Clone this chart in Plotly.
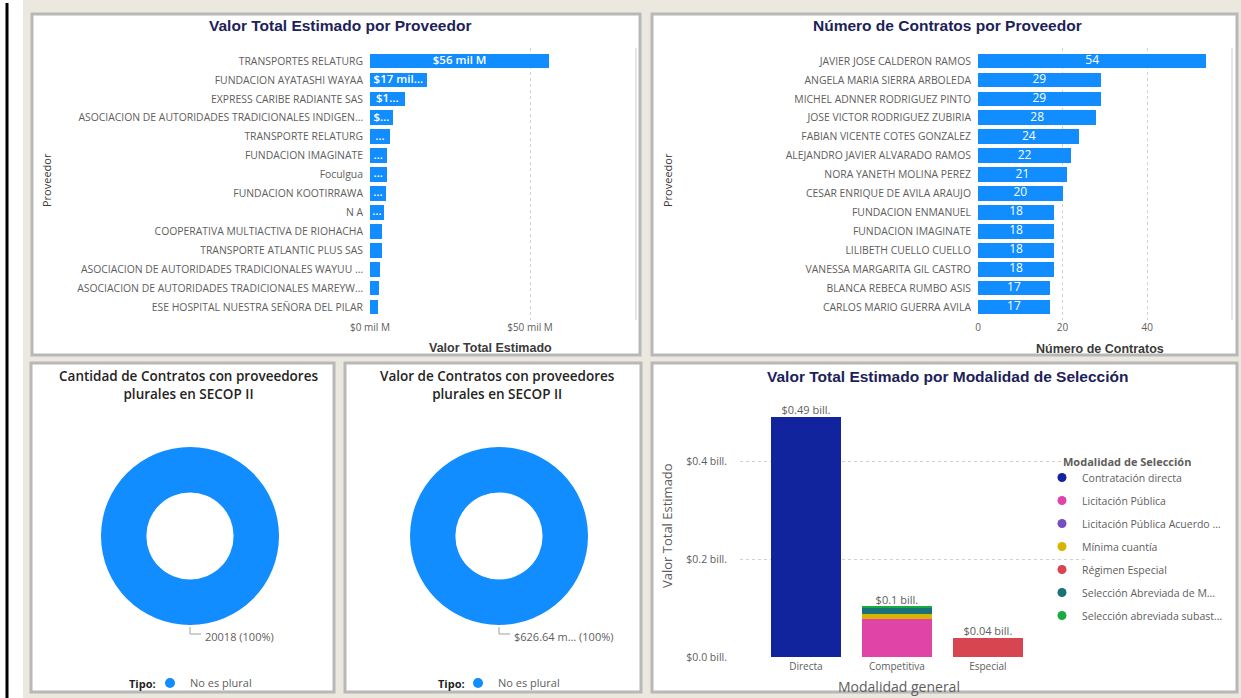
import plotly.graph_objects as go

W, H = 1241, 698


def px(x):
    return x / W


def py(y):
    return 1 - y / H


# ---------------- data ----------------
proveedores_valor = [
    "TRANSPORTES RELATURG",
    "FUNDACION AYATASHI WAYAA",
    "EXPRESS CARIBE RADIANTE SAS",
    "ASOCIACION DE AUTORIDADES TRADICIONALES INDIGEN…",
    "TRANSPORTE RELATURG",
    "FUNDACION IMAGINATE",
    "Foculgua",
    "FUNDACION KOOTIRRAWA",
    "N A",
    "COOPERATIVA MULTIACTIVA DE RIOHACHA",
    "TRANSPORTE ATLANTIC PLUS SAS",
    "ASOCIACION DE AUTORIDADES TRADICIONALES WAYUU …",
    "ASOCIACION DE AUTORIDADES TRADICIONALES MAREYW…",
    "ESE HOSPITAL NUESTRA SEÑORA DEL PILAR",
]
valor_mil_millones = [56.0, 17.7, 10.8, 7.2, 6.2, 5.2, 5.2, 4.9, 4.4, 3.9, 3.6, 3.1, 2.9, 2.6]
etiquetas_valor = ["$56 mil M", "$17 mil…", "$1…", "$…", "…", "…", "…", "…", "…",
                   "", "", "", "", ""]
ticks_valor = [0, 50]

proveedores_contratos = [
    "JAVIER JOSE CALDERON RAMOS",
    "ANGELA MARIA SIERRA ARBOLEDA",
    "MICHEL ADNNER RODRIGUEZ PINTO",
    "JOSE VICTOR RODRIGUEZ ZUBIRIA",
    "FABIAN VICENTE COTES GONZALEZ",
    "ALEJANDRO JAVIER ALVARADO RAMOS",
    "NORA YANETH MOLINA PEREZ",
    "CESAR ENRIQUE DE AVILA ARAUJO",
    "FUNDACION ENMANUEL",
    "FUNDACION IMAGINATE",
    "LILIBETH CUELLO CUELLO",
    "VANESSA MARGARITA GIL CASTRO",
    "BLANCA REBECA RUMBO ASIS",
    "CARLOS MARIO GUERRA AVILA",
]
numero_contratos = [54, 29, 29, 28, 24, 22, 21, 20, 18, 18, 18, 18, 17, 17]
ticks_contratos = [0, 20, 40]

modalidad_general = ["Directa", "Competitiva", "Especial"]
contratacion_directa = [0.49, 0, 0]
licitacion_publica = [0, 0.0776, 0]
licitacion_publica_acuerdo = [0, 0.0008, 0]
minima_cuantia = [0, 0.0102, 0]
regimen_especial = [0, 0, 0.0385]
seleccion_abreviada_m = [0, 0.0122, 0]
seleccion_abreviada_subasta = [0, 0.0020, 0]
ticks_bill = [0.0, 0.2, 0.4]

tipo = ["No es plural"]
cantidad_contratos = [20018]
valor_contratos_mil_m = [626.64]

# ---------------- styles ----------------
BLUE = "#118DFF"
BEIGE = "#EAE8DF"
BORDER = "#B8B8B8"
NAVY = "#1C2259"
GRAY = "#605E5C"
DARK = "#252423"
FONT = "Open Sans, Noto Sans, sans-serif"
TITLEFONT = "Liberation Sans, Arial, sans-serif"
GRID = "#D2D0CE"

series_modalidad = [
    ("Contratación directa", contratacion_directa, "#12239E"),
    ("Licitación Pública", licitacion_publica, "#E044A7"),
    ("Licitación Pública Acuerdo …", licitacion_publica_acuerdo, "#744EC2"),
    ("Mínima cuantía", minima_cuantia, "#D9B300"),
    ("Régimen Especial", regimen_especial, "#D64550"),
    ("Selección Abreviada de M…", seleccion_abreviada_m, "#197278"),
    ("Selección abreviada subast…", seleccion_abreviada_subasta, "#1AAB40"),
]

fig = go.Figure()

# ---- top-left: valor por proveedor
fig.add_trace(go.Bar(
    x=valor_mil_millones, y=proveedores_valor, orientation="h",
    marker=dict(color=BLUE, line=dict(width=0)), width=0.78,
    xaxis="x", yaxis="y", showlegend=False,
))
fig.add_trace(go.Scatter(
    x=[v / 2 for v in valor_mil_millones], y=proveedores_valor, text=etiquetas_valor,
    mode="text", textposition="middle center",
    textfont=dict(color="white", size=11.5, family=FONT, weight=600),
    xaxis="x", yaxis="y", showlegend=False, hoverinfo="skip",
))

# ---- top-right: número de contratos
fig.add_trace(go.Bar(
    x=numero_contratos, y=proveedores_contratos, orientation="h",
    marker=dict(color=BLUE, line=dict(width=0)), width=0.78,
    xaxis="x2", yaxis="y2", showlegend=False,
))
fig.add_trace(go.Scatter(
    x=[v / 2 for v in numero_contratos], y=proveedores_contratos,
    text=[str(v) for v in numero_contratos],
    mode="text", textposition="middle center",
    textfont=dict(color="white", size=12, family=FONT),
    xaxis="x2", yaxis="y2", showlegend=False, hoverinfo="skip",
))

# ---- bottom-right: stacked by modalidad
for name, vals, col in series_modalidad:
    fig.add_trace(go.Bar(
        x=modalidad_general, y=vals, name=name, marker=dict(color=col, line=dict(width=0)),
        width=0.77, xaxis="x3", yaxis="y3", showlegend=False,
    ))
totales = [sum(s[1][i] for s in series_modalidad) for i in range(len(modalidad_general))]


def fmt_bill(v):
    s = f"{v:.2f}".rstrip("0")
    if s.endswith("."):
        s += "0"
    return f"${s} bill."


fig.add_trace(go.Scatter(
    x=modalidad_general, y=totales, text=[fmt_bill(t) for t in totales],
    mode="text", textposition="top center",
    textfont=dict(color=GRAY, size=11, family=FONT),
    xaxis="x3", yaxis="y3", showlegend=False, hoverinfo="skip",
))
for name, vals, col in series_modalidad:
    fig.add_trace(go.Scatter(
        x=[None], y=[None], mode="markers", name=name, legendgroup=name,
        marker=dict(color=col, size=9, symbol="circle"),
        xaxis="x3", yaxis="y3", legend="legend",
    ))

# ---- donuts
fig.add_trace(go.Pie(
    labels=tipo, values=cantidad_contratos, hole=0.49, sort=False,
    marker=dict(colors=[BLUE], line=dict(width=0)), textinfo="none",
    domain=dict(x=[px(101), px(279)], y=[py(625), py(447)]), showlegend=False,
))
fig.add_trace(go.Pie(
    labels=tipo, values=valor_contratos_mil_m, hole=0.49, sort=False,
    marker=dict(colors=[BLUE], line=dict(width=0)), textinfo="none",
    domain=dict(x=[px(410), px(588)], y=[py(625), py(447)]), showlegend=False,
))
for lg in ("legend2", "legend3"):
    fig.add_trace(go.Scatter(
        x=[None], y=[None], mode="markers", name=tipo[0],
        marker=dict(color=BLUE, size=10, symbol="circle"),
        xaxis="x3", yaxis="y3", legend=lg,
    ))

pct1 = round(100 * cantidad_contratos[0] / sum(cantidad_contratos))
pct2 = round(100 * valor_contratos_mil_m[0] / sum(valor_contratos_mil_m))
lbl1 = f"{cantidad_contratos[0]} ({pct1}%)"
lbl2 = f"${valor_contratos_mil_m[0]:.2f} m… ({pct2}%)"

# ---------------- shapes (panels) ----------------
shapes = []
shapes.append(dict(type="rect", xref="paper", yref="paper", x0=0, x1=px(23), y0=0, y1=1,
                   fillcolor="white", line=dict(width=0), layer="below"))
shapes.append(dict(type="line", xref="paper", yref="paper", x0=px(7), x1=px(7), y0=0, y1=py(3),
                   line=dict(color="black", width=3), layer="below"))
for (x0, y0, x1, y1) in [(32, 14, 640, 355), (652, 14, 1237, 355), (31, 363, 334, 692),
                         (345, 363, 641, 692), (652, 363, 1237, 692)]:
    shapes.append(dict(type="rect", xref="paper", yref="paper",
                       x0=px(x0), x1=px(x1), y0=py(y1), y1=py(y0),
                       fillcolor="white", line=dict(color=BORDER, width=3), layer="below"))
# scroll hints
for xs in (636, 1232):
    shapes.append(dict(type="line", xref="paper", yref="paper", x0=px(xs), x1=px(xs),
                       y0=py(320), y1=py(48), line=dict(color="#E6E6E6", width=2), layer="below"))
# donut label leaders
for cx in (190, 499):
    shapes.append(dict(type="path", xref="paper", yref="paper",
                       path=f"M {px(cx)} {py(627)} L {px(cx)} {py(634)} L {px(cx + 11)} {py(634)}",
                       line=dict(color="#A19F9D", width=1)))

# ---------------- annotations ----------------
ann = []


def add_text(text, x, y, size, color, family=FONT, weight="normal", angle=0, xanchor="center"):
    ann.append(dict(text=text, x=px(x), y=py(y), xref="paper", yref="paper", showarrow=False,
                    xanchor=xanchor, yanchor="middle", textangle=angle,
                    font=dict(size=size, color=color, family=family, weight=weight)))


add_text("Valor Total Estimado por Proveedor", 340, 25, 15.5, NAVY, TITLEFONT, "bold")
add_text("Número de Contratos por Proveedor", 948, 25, 15.5, NAVY, TITLEFONT, "bold")
add_text("Valor Total Estimado por Modalidad de Selección", 947, 376, 15.5, NAVY, TITLEFONT, "bold")
add_text("Cantidad de Contratos con proveedores<br>plurales en SECOP II", 188, 385, 13.5, DARK, FONT, 600)
add_text("Valor de Contratos con proveedores<br>plurales en SECOP II", 497, 385, 13.5, DARK, FONT, 600)

add_text("Valor Total Estimado", 490, 348, 12.5, "#3B3A39", TITLEFONT, "bold")
add_text("Número de Contratos", 1100, 349, 12.5, "#3B3A39", TITLEFONT, "bold")
add_text("Proveedor", 47, 180, 11, "#3B3A39", FONT, 500, -90)
add_text("Proveedor", 668, 180, 11, "#3B3A39", FONT, 500, -90)
add_text("Valor Total Estimado", 667, 526, 13, GRAY, FONT, "normal", -90)
add_text("Modalidad general", 899, 686, 14, GRAY, FONT)

add_text(lbl1, 203, 636, 11, GRAY, FONT, "normal", 0, "left")
add_text(lbl2, 512, 636, 11, GRAY, FONT, "normal", 0, "left")

add_text("Modalidad de Selección", 1061, 461, 11, GRAY, FONT, 700, 0, "left")
add_text("Tipo:", 158, 683, 11, DARK, FONT, 700, 0, "right")
add_text("Tipo:", 467, 683, 11, DARK, FONT, 700, 0, "right")

# ---------------- layout ----------------
tickfont = dict(family=FONT, size=10.4, color=GRAY)
ylist = [py(320), py(48)]

fig.update_layout(
    width=W, height=H, autosize=False,
    margin=dict(l=0, r=0, t=0, b=0, autoexpand=False),
    paper_bgcolor=BEIGE, plot_bgcolor="rgba(0,0,0,0)",
    barmode="stack",
    font=dict(family=FONT, color=GRAY),
    shapes=shapes, annotations=ann,
    xaxis=dict(domain=[px(370), px(610)], range=[0, 75], anchor="y", automargin=False,
               tickvals=ticks_valor, ticktext=[f"${v} mil M" for v in ticks_valor],
               showgrid=True, gridcolor=GRID, griddash="dot", zeroline=False,
               tickfont=dict(family=FONT, size=10, color=GRAY), showline=False),
    yaxis=dict(domain=ylist, anchor="x", type="category", categoryorder="array", automargin=False,
               categoryarray=proveedores_valor, range=[13.69, -0.69], showgrid=False,
               tickfont=tickfont, ticklabelstandoff=6, zeroline=False),
    xaxis2=dict(domain=[px(978), px(1222)], range=[0, 57.7], anchor="y2", automargin=False,
                tickvals=ticks_contratos, showgrid=True, gridcolor=GRID, griddash="dot",
                zeroline=False, tickfont=dict(family=FONT, size=10, color=GRAY)),
    yaxis2=dict(domain=ylist, anchor="x2", type="category", categoryorder="array", automargin=False,
                categoryarray=proveedores_contratos, range=[13.69, -0.69], showgrid=False,
                tickfont=tickfont, ticklabelstandoff=6, zeroline=False),
    xaxis3=dict(domain=[px(740), px(1087)], range=[-0.725, 3.09], anchor="y3", automargin=False,
                type="category", categoryorder="array", categoryarray=modalidad_general,
                showgrid=False, zeroline=False, tickfont=dict(family=FONT, size=10, color=GRAY),
                ticklabelstandoff=2),
    yaxis3=dict(domain=[py(657), py(400)], range=[0, 0.5245], anchor="x3", automargin=False,
                tickvals=ticks_bill, ticktext=[f"${v:.1f} bill." for v in ticks_bill],
                showgrid=True, gridcolor=GRID, griddash="dot", zeroline=False,
                tickfont=dict(family=FONT, size=10.5, color=GRAY), ticklabelstandoff=12),
    legend=dict(x=px(1042), y=py(463), xanchor="left", yanchor="top",
                bgcolor="rgba(0,0,0,0)", traceorder="grouped", tracegroupgap=4,
                font=dict(family=FONT, size=10.5, color=GRAY), itemwidth=30),
    legend2=dict(x=px(150), y=py(683), xanchor="left", yanchor="middle", orientation="h",
                 bgcolor="rgba(0,0,0,0)",
                 font=dict(family=FONT, size=11, color=GRAY), itemwidth=30),
    legend3=dict(x=px(458), y=py(683), xanchor="left", yanchor="middle", orientation="h",
                 bgcolor="rgba(0,0,0,0)",
                 font=dict(family=FONT, size=11, color=GRAY), itemwidth=30),
)

fig.write_html("out.html", config={"displayModeBar": False},
               post_script="document.body.style.margin='0';")
